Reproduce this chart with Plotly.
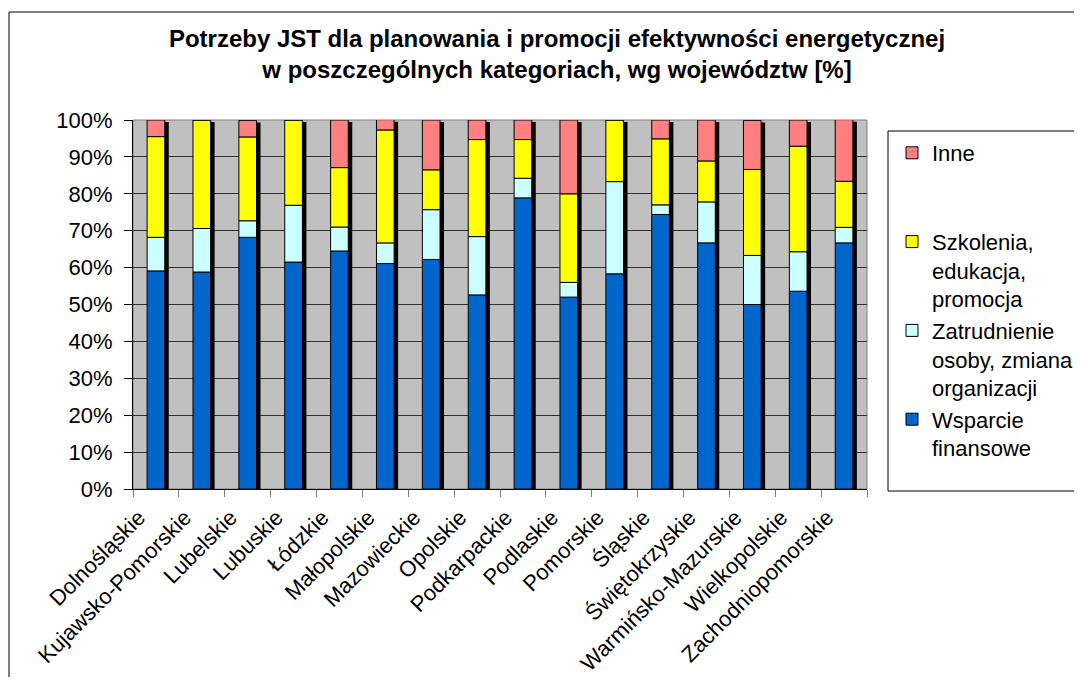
import numpy as np
import plotly.graph_objects as go

categories = ["Dolnośląskie", "Kujawsko-Pomorskie", "Lubelskie", "Lubuskie", "Łódzkie",
              "Małopolskie", "Mazowieckie", "Opolskie", "Podkarpackie", "Podlaskie",
              "Pomorskie", "Śląskie", "Świętokrzyskie", "Warmińsko-Mazurskie",
              "Wielkopolskie", "Zachodniopomorskie"]
wsparcie = [59.1, 58.8, 68.2, 61.5, 64.5, 61.1, 62.2, 52.6, 78.9, 52.0, 58.3, 74.4, 66.7, 50.0, 53.6, 66.7]
zatrudnienie = [9.1, 11.8, 4.5, 15.4, 6.5, 5.6, 13.5, 15.8, 5.3, 4.0, 25.0, 2.6, 11.1, 13.3, 10.7, 4.2]
szkolenia = [27.3, 29.4, 22.7, 23.1, 16.1, 30.6, 10.8, 26.3, 10.5, 24.0, 16.7, 17.9, 11.1, 23.3, 28.6, 12.5]
inne = [4.5, 0.0, 4.5, 0.0, 12.9, 2.8, 13.5, 5.3, 5.3, 20.0, 0.0, 5.1, 11.1, 13.3, 7.1, 16.7]

series_names = ["Wsparcie<br>finansowe",
                "Zatrudnienie<br>osoby, zmiana<br>organizacji",
                "Szkolenia,<br>edukacja,<br>promocja",
                "Inne<br> <br> "]
series_vals = [wsparcie, zatrudnienie, szkolenia, inne]
series_colors = ["#0066CC", "#CCFFFF", "#FFFF00", "#FF8080"]

FONT = "Liberation Sans, Arial, sans-serif"
# page body has an 8px margin; figure coordinates = screen - 8
W, H = 1074, 669
L, R, T, B = 125, 859, 112, 481
BAR_W = 0.385

fig = go.Figure()

totals = np.sum(np.array(series_vals), axis=0)
# drop shadow behind each column
fig.add_trace(go.Bar(x=categories, y=totals, base=-0.55, width=BAR_W,
                     offset=-BAR_W / 2 + 0.087,
                     marker=dict(color="#000000", line=dict(width=0)),
                     showlegend=False, hoverinfo="skip"))

cum = np.zeros(len(categories))
for name, vals, col in zip(series_names, series_vals, series_colors):
    v = np.array(vals)
    fig.add_trace(go.Bar(x=categories, y=v, base=cum.copy(), width=BAR_W,
                         offset=-BAR_W / 2, name=name,
                         marker=dict(color=col, line=dict(color="#000000", width=1))))
    cum = cum + v


def px_x(p):
    return (p - L) / (R - L)


def px_y(p):
    return (B - p) / (B - T)


shapes = [
    dict(type="rect", xref="paper", yref="paper", x0=0, x1=1, y0=0, y1=1,
         line=dict(color="#808080", width=1), layer="below"),
    dict(type="rect", xref="paper", yref="paper", x0=px_x(880), x1=px_x(1120),
         y0=px_y(483), y1=px_y(123), line=dict(color="#000000", width=1)),
    dict(type="rect", xref="paper", yref="paper", x0=px_x(1), x1=px_x(1120),
         y0=px_y(700), y1=px_y(4), line=dict(color="#000000", width=1)),
]

fig.update_layout(
    width=W, height=H,
    margin=dict(l=L, r=W - R, t=T, b=H - B, pad=0),
    paper_bgcolor="#FFFFFF",
    plot_bgcolor="#C0C0C0",
    barmode="overlay",
    font=dict(family=FONT, size=22, color="#000000"),
    title=dict(text="Potrzeby JST dla planowania i promocji efektywności energetycznej<br>"
                    "w poszczególnych kategoriach, wg województw [%]",
               font=dict(family=FONT, size=24, weight="bold", color="#000000"),
               x=549 / W, xanchor="center", xref="container",
               y=1 - 39 / H, yanchor="top", yref="container"),
    legend=dict(traceorder="reversed", valign="top",
                x=884 / W, xref="container", xanchor="left",
                y=1 - 124 / H, yref="container", yanchor="top",
                bgcolor="rgba(0,0,0,0)", borderwidth=0,
                font=dict(family=FONT, size=22, color="#000000"),
                tracegroupgap=0),
    shapes=shapes,
    xaxis=dict(type="category", showgrid=False, tickangle=-45, automargin=False,
               ticks="outside", ticklen=7, tickcolor="#808080", tickson="boundaries",
               ticklabelshift=-17, ticklabelstandoff=6,
               showline=True, linecolor="#000000", linewidth=1,
               tickfont=dict(family=FONT, size=22, color="#000000"),
               range=[-0.5, len(categories) - 0.5]),
    yaxis=dict(range=[0, 100], dtick=10, ticksuffix="%", showgrid=True, automargin=False,
               gridcolor="#303030", gridwidth=1, zeroline=False,
               ticks="outside", ticklen=8, tickcolor="#000000", ticklabelstandoff=7,
               showline=True, linecolor="#000000", linewidth=1,
               tickfont=dict(family=FONT, size=22, color="#000000")),
)

fig.write_html("out.html")
